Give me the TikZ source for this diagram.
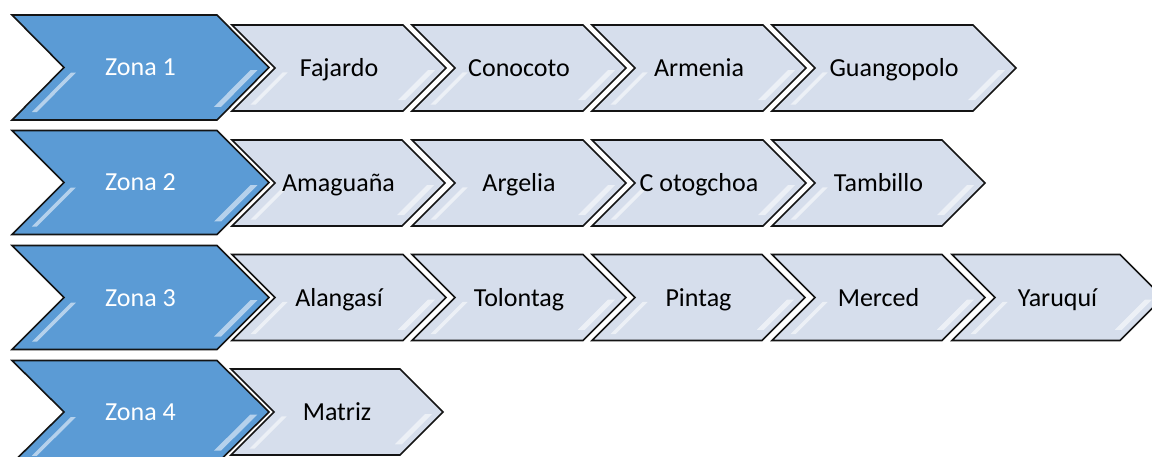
\documentclass[tikz,border=0pt]{standalone}
\usepackage{fontspec}
\setmainfont{Carlito}
\definecolor{zoneblue}{RGB}{91,155,213}
\definecolor{lightfill}{RGB}{214,222,236}
\definecolor{edgegray}{RGB}{20,20,20}
\tikzset{
  zoneshape/.style={fill=zoneblue,draw=edgegray,line width=1.6pt,line join=miter},
  itemshape/.style={fill=lightfill,draw=edgegray,line width=1.6pt,line join=miter},
  zonetext/.style={anchor=base,text=white,font=\fontsize{26}{30}\selectfont,inner sep=0pt},
  itemtext/.style={anchor=base,text=black,font=\fontsize{26}{30}\selectfont,inner sep=0pt},
  gloss/.style={fill=white,opacity=0.55},
}
% #1 name, #2 L, #3 R, #4 center y, #5 half height, #6 depth, #7 shape style, #8 text style, #9 text
\newcommand\mychev[9]{%
  \path[#7] (#2,#4-#5) -- (#3,#4-#5) -- (#3+#6,#4) -- (#3,#4+#5) -- (#2,#4+#5) -- (#2+#6,#4) -- cycle;
  % gloss strip along the lower tip edge
  \fill[gloss] ({#3+#6-0.05*#6-9},{#4+0.05*#5}) -- ({#3+#6-0.75*#6-9},{#4+0.75*#5})
     -- ({#3+#6-0.75*#6-16},{#4+0.75*#5}) -- ({#3+#6-0.05*#6-16},{#4+0.05*#5}) -- cycle;
  % gloss strip along the lower notch edge
  \fill[gloss] ({#2+#6-0.1*#6+12},{#4+0.1*#5}) -- ({#2+#6-0.85*#6+12},{#4+0.85*#5})
     -- ({#2+#6-0.85*#6+17},{#4+0.85*#5}) -- ({#2+#6-0.1*#6+17},{#4+0.1*#5}) -- cycle;
  \node[#8] (#1) at ({(#2+#3+#6)/2},{#4+8.5}) {#9};
}
\begin{document}
\begin{tikzpicture}[x=1pt,y=-1pt]
\useasboundingbox (0,0) rectangle (1152,457);
% Row 1
\mychev{fajardo}{232}{403}{68}{43}{43}{itemshape}{itemtext}{Fajardo}
\mychev{conocoto}{412}{583}{68}{43}{43}{itemshape}{itemtext}{Conocoto}
\mychev{armenia}{592}{763}{68}{43}{43}{itemshape}{itemtext}{Armenia}
\mychev{guangopolo}{772}{973}{68}{43}{43}{itemshape}{itemtext}{Guangopolo}
\mychev{z1}{12}{217}{67.5}{52.5}{52}{zoneshape}{zonetext}{Zona 1}
% Row 2
\mychev{amaguana}{232}{402}{183}{43}{43}{itemshape}{itemtext}{Amaguaña}
\mychev{argelia}{412}{583}{183}{43}{43}{itemshape}{itemtext}{Argelia}
\mychev{cotogchoa}{592}{763}{183}{43}{43}{itemshape}{itemtext}{C otogchoa}
\mychev{tambillo}{772}{942}{183}{43}{43}{itemshape}{itemtext}{Tambillo}
\mychev{z2}{12}{217}{182.5}{52}{52}{zoneshape}{zonetext}{Zona 2}
% Row 3
\mychev{alangasi}{232}{403}{297.5}{43}{43}{itemshape}{itemtext}{Alangasí}
\mychev{tolontag}{412}{583}{297.5}{43}{43}{itemshape}{itemtext}{Tolontag}
\mychev{pintag}{592}{762}{297.5}{43}{43}{itemshape}{itemtext}{Pintag}
\mychev{merced}{772}{942}{297.5}{43}{43}{itemshape}{itemtext}{Merced}
\mychev{yaruqui}{952}{1120}{297.5}{43}{43}{itemshape}{itemtext}{Yaruquí}
\mychev{z3}{12}{217}{297.5}{52}{52}{zoneshape}{zonetext}{Zona 3}
% Row 4
\mychev{matriz}{231}{400}{412}{43}{43}{itemshape}{itemtext}{Matriz}
\mychev{z4}{12}{217}{412}{51.5}{52}{zoneshape}{zonetext}{Zona 4}
\end{tikzpicture}
\end{document}
